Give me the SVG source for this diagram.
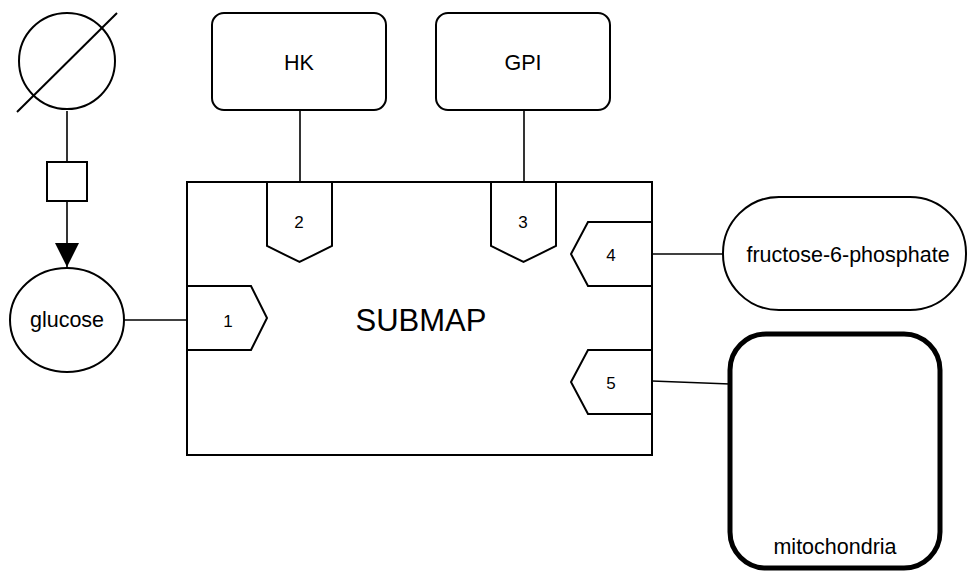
<svg xmlns="http://www.w3.org/2000/svg" width="968" height="572" viewBox="0 0 968 572">
<defs>
<style>
.s{fill:#fff;stroke:#000;stroke-width:2}
.l{fill:none;stroke:#000;stroke-width:1.6}
.t{font-family:"Liberation Sans",Arial,sans-serif;fill:#000;text-anchor:middle;dominant-baseline:central}
.n{font-size:21.5px}
.p{font-size:17px}
</style>
<marker id="arr" viewBox="0 0 24 24" markerWidth="24" markerHeight="24" refX="24" refY="12" orient="auto" markerUnits="userSpaceOnUse">
<path d="M0,0 L24,12 L0,24 Z" fill="#000"/>
</marker>
</defs>
<rect width="968" height="572" fill="#fff"/>
<g id="connectors">
<line class="l" x1="67" y1="111" x2="67" y2="162"/>
<line class="l" x1="67" y1="201" x2="67" y2="267" marker-end="url(#arr)"/>
<line class="l" x1="124" y1="320" x2="187" y2="320"/>
<line class="l" x1="300" y1="111" x2="300" y2="182"/>
<line class="l" x1="524" y1="111" x2="524" y2="182"/>
<line class="l" x1="652" y1="254" x2="723" y2="254"/>
<line class="l" x1="652" y1="381" x2="730" y2="384"/>
</g>
<g id="source">
<circle class="s" cx="67" cy="61" r="48"/>
<line x1="17" y1="112" x2="117" y2="13" stroke="#000" stroke-width="2"/>
</g>
<g id="process">
<rect class="s" x="47" y="162" width="40" height="39"/>
</g>
<g id="glucose">
<ellipse class="s" cx="67" cy="320" rx="57" ry="52"/>
<text class="t n" x="67" y="320">glucose</text>
</g>
<g id="HK">
<rect class="s" x="212" y="13" width="174" height="97" rx="12"/>
<text class="t n" x="299" y="63">HK</text>
</g>
<g id="GPI">
<rect class="s" x="436" y="13" width="174" height="97" rx="12"/>
<text class="t n" x="523" y="63">GPI</text>
</g>
<g id="submap">
<rect class="s" x="187" y="182" width="465" height="273"/>
<text class="t" x="421" y="320" font-size="31">SUBMAP</text>
</g>
<g id="port1">
<polygon class="s" points="187,286 251,286 267,318 251,350 187,350"/>
<text class="t p" x="228" y="321">1</text>
</g>
<g id="port2">
<polygon class="s" points="267,182 332,182 332,246 299.5,262 267,246"/>
<text class="t p" x="299" y="222">2</text>
</g>
<g id="port3">
<polygon class="s" points="491,182 556,182 556,246 523.5,262 491,246"/>
<text class="t p" x="523" y="222">3</text>
</g>
<g id="port4">
<polygon class="s" points="652,222 588,222 571,254 588,286 652,286"/>
<text class="t p" x="611" y="255">4</text>
</g>
<g id="port5">
<polygon class="s" points="652,350 588,350 571,382 588,414 652,414"/>
<text class="t p" x="611" y="383">5</text>
</g>
<g id="f6p">
<rect class="s" x="723" y="197" width="243" height="113" rx="56" ry="56"/>
<text class="t n" x="848" y="255">fructose-6-phosphate</text>
</g>
<g id="mitochondria">
<rect x="730" y="334" width="210" height="234" rx="36" ry="36" fill="#fff" stroke="#000" stroke-width="5"/>
<text class="t n" x="835" y="547">mitochondria</text>
</g>
</svg>
